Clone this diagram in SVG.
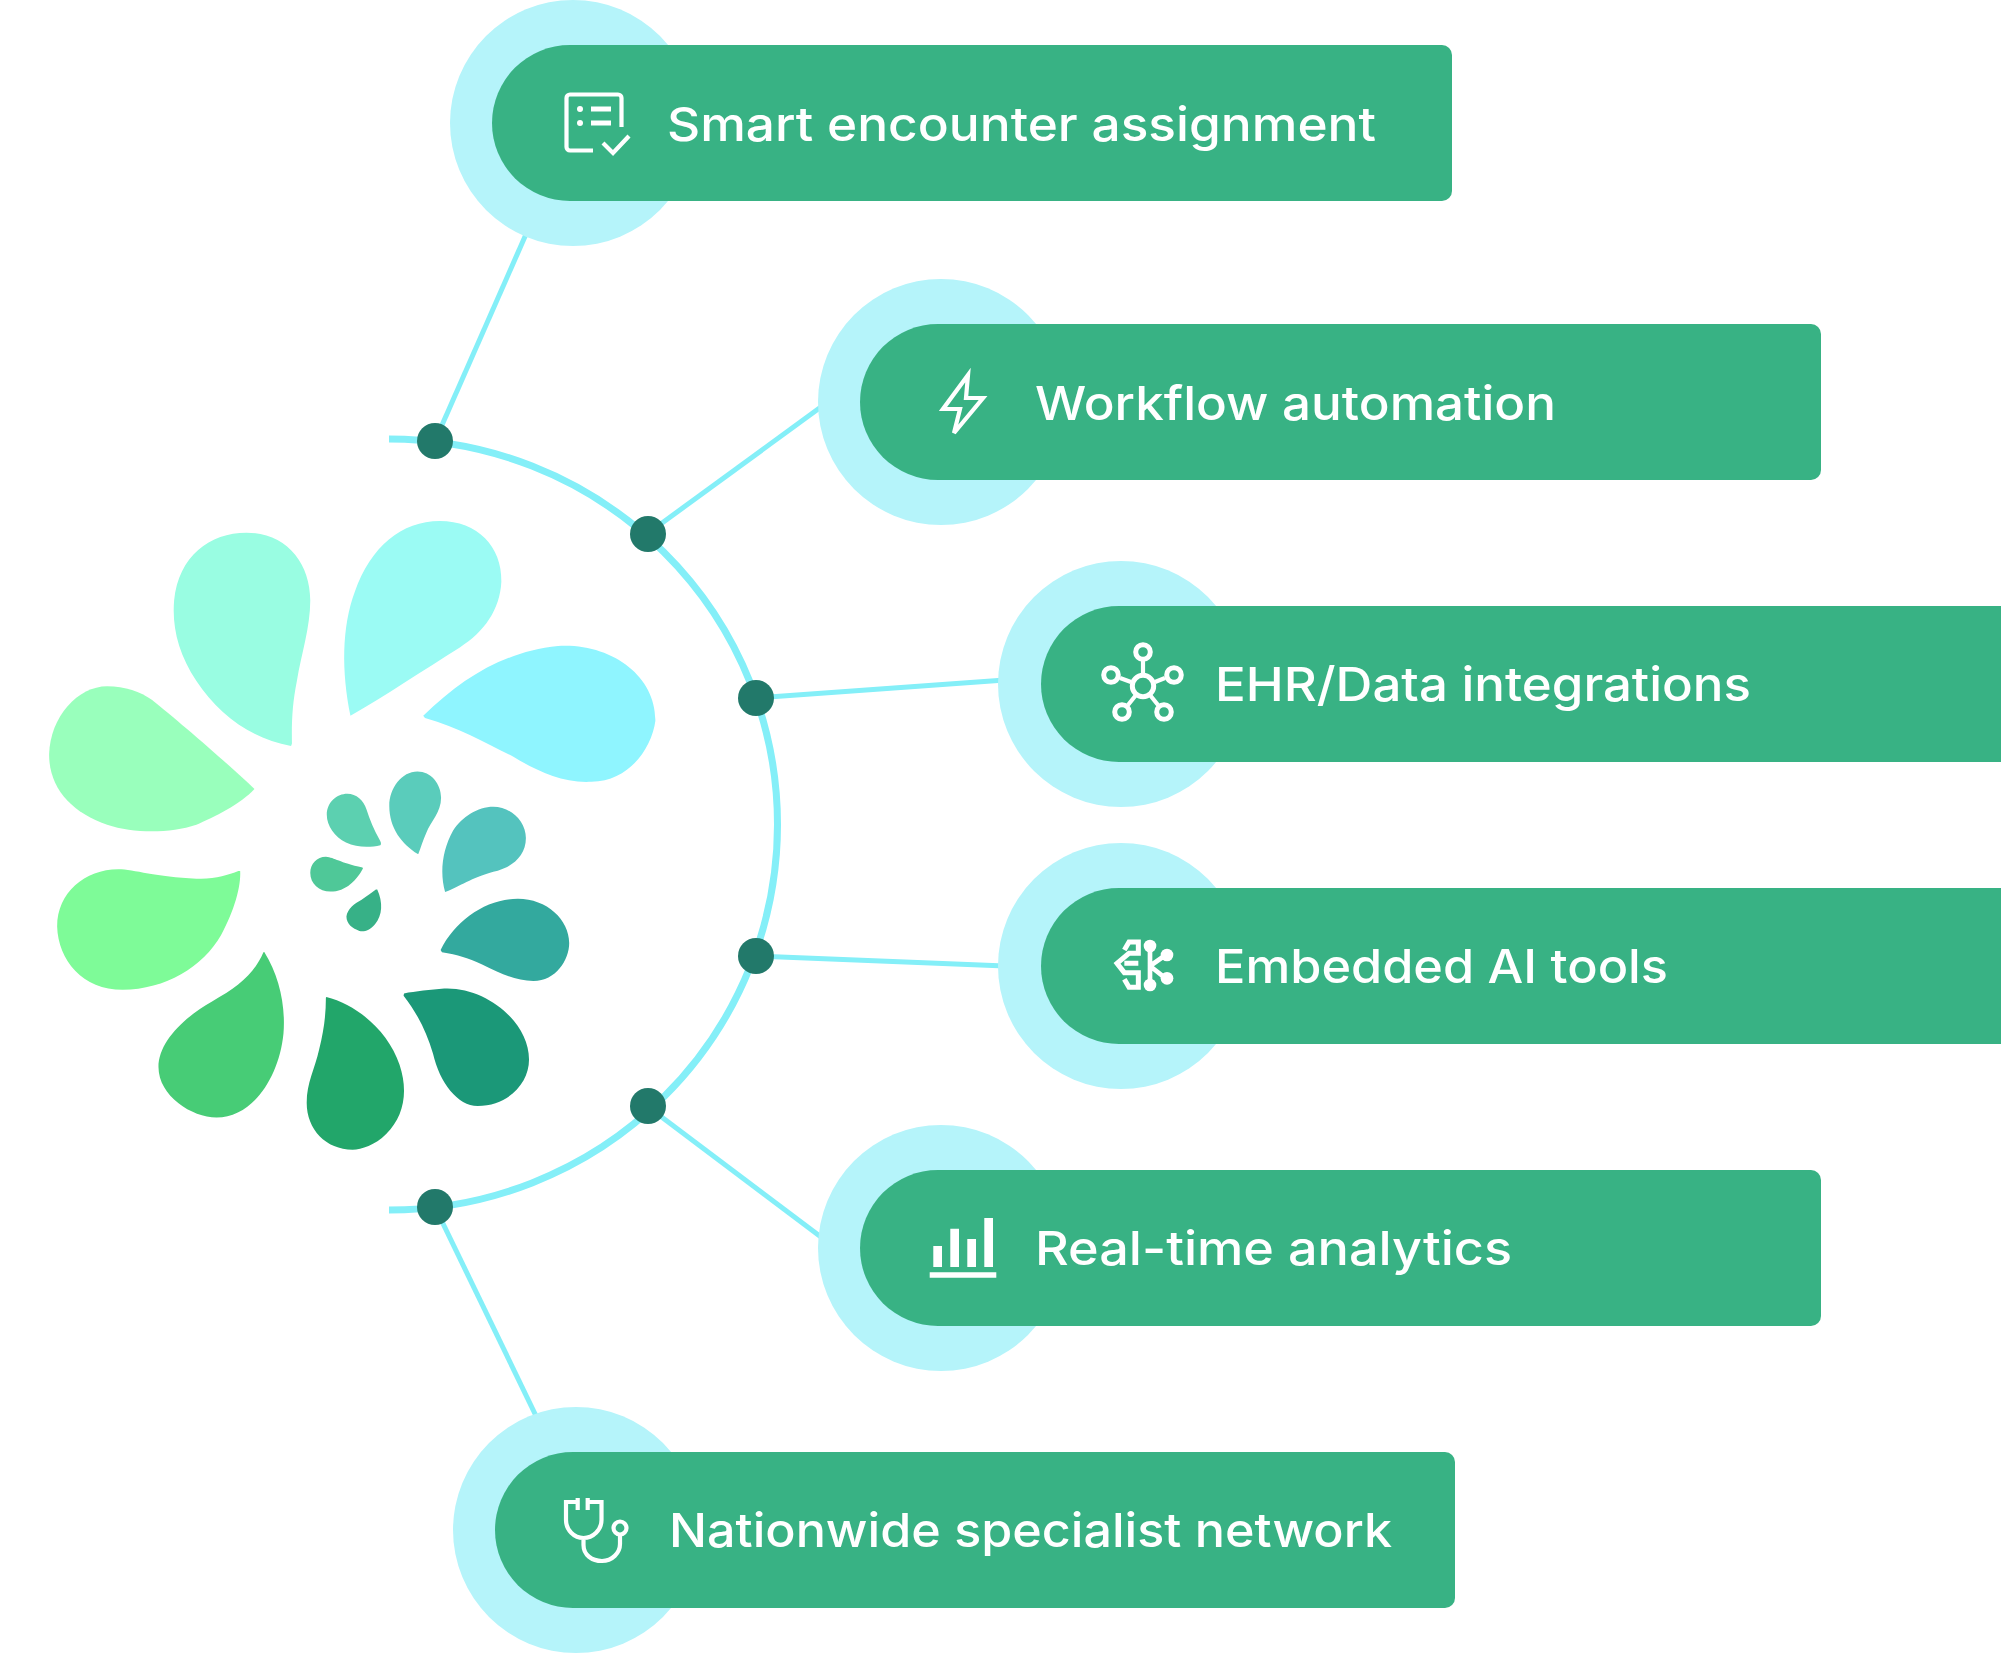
<svg xmlns="http://www.w3.org/2000/svg" width="2001" height="1653" viewBox="0 0 2001 1653">
<style>
.halo{fill:#b5f4fa}
.pill{fill:#38b284}
.conn{fill:none;stroke:#84eff8;stroke-width:5}
.arc{fill:none;stroke:#84eff8;stroke-width:7}
.dot{fill:#22796a}
.lbl{font-family:"Inter","Liberation Sans",sans-serif;font-size:47px;font-weight:500;fill:#fff}
.ico{fill:none;stroke:#fff;stroke-width:4.2}
.icf{fill:#fff}
</style>
<rect width="2001" height="1653" fill="#fff"/>
<g id="connectors">
<path class="arc" d="M389,439 A388,385 0 0 1 389,1210"/>
<path class="conn" d="M435,441 L527,232"/>
<path class="conn" d="M647,534 L825,404"/>
<path class="conn" d="M755,698 L1005,680"/>
<path class="conn" d="M755,956 L1005,966"/>
<path class="conn" d="M647,1106 L825,1240"/>
<path class="conn" d="M435,1207 L538,1420"/>
<circle class="dot" cx="435" cy="441" r="18"/>
<circle class="dot" cx="648" cy="534" r="18"/>
<circle class="dot" cx="756" cy="698" r="18"/>
<circle class="dot" cx="756" cy="956" r="18"/>
<circle class="dot" cx="648" cy="1106" r="18"/>
<circle class="dot" cx="435" cy="1207" r="18"/>
</g>
<g id="logo" transform="translate(0 480) scale(.44643)">
<path fill="#8ff5ff" d="M948,528 C1040,440 1130,385 1250,372 C1370,365 1470,440 1468,540 C1460,600 1410,675 1325,676 C1260,680 1200,650 1150,620 C1090,590 1030,555 952,533 Z"/>
<path fill="#9bfbf4" d="M785,528 C765,430 765,330 795,250 C830,150 900,92 985,92 C1070,92 1125,150 1123,228 C1120,290 1085,340 1030,375 C950,425 860,485 785,528 Z"/>
<path fill="#99fde2" d="M652,596 C560,578 490,525 440,450 C400,390 385,330 390,270 C400,170 470,118 552,118 C640,118 695,185 695,270 C695,330 675,390 665,450 C655,500 653,540 654,590 Z"/>
<path fill="#99ffbc" d="M570,692 C540,725 480,755 440,772 C380,792 300,792 240,772 C160,745 110,690 110,615 C112,530 175,462 240,462 C280,462 315,475 340,492 C400,540 510,635 570,692 Z"/>
<path fill="#7efb98" d="M538,876 C540,910 525,965 495,1020 C455,1090 370,1142 275,1142 C185,1142 130,1075 128,1000 C128,925 190,872 265,872 C300,872 350,890 440,893 C480,895 510,885 534,876 Z"/>
<path fill="#47cc76" d="M592,1057 C625,1110 640,1175 635,1240 C625,1340 565,1428 485,1428 C430,1428 355,1380 355,1315 C355,1260 410,1205 475,1168 C535,1135 570,1105 590,1058 Z"/>
<path fill="#22a66a" d="M731,1158 C800,1175 870,1235 895,1310 C915,1370 905,1425 865,1465 C840,1490 810,1500 790,1500 C730,1500 687,1455 687,1395 C687,1350 705,1320 715,1275 C725,1235 730,1200 730,1160 Z"/>
<path fill="#1b9878" d="M905,1150 C930,1145 965,1142 995,1139 C1090,1135 1185,1215 1185,1298 C1185,1350 1140,1402 1070,1402 C1025,1402 985,1350 970,1285 C955,1235 935,1195 904,1155 Z"/>
<path fill="#33a99e" d="M987,1053 C1020,985 1090,938 1160,938 C1225,938 1275,985 1275,1037 C1275,1075 1245,1122 1195,1122 C1155,1122 1120,1105 1080,1085 C1050,1072 1025,1063 990,1058 Z"/>
<path fill="#54c3be" d="M997,923 C985,880 990,830 1015,785 C1035,755 1070,732 1105,732 C1145,732 1178,765 1178,802 C1178,840 1150,865 1115,875 C1060,888 1040,905 997,923 Z"/>
<path fill="#5accbb" d="M936,838 C900,815 872,780 872,730 C872,690 900,653 935,653 C965,653 988,680 988,712 C988,745 965,765 955,790 C947,808 943,822 937,838 Z"/>
<path fill="#5cd0b0" d="M852,818 C830,823 800,824 775,812 C750,800 732,775 732,750 C732,722 755,703 778,703 C798,703 815,718 821,738 C828,760 838,785 850,805 C853,810 855,815 852,818 Z"/>
<path fill="#4fc898" d="M813,870 C800,895 775,922 740,922 C715,922 695,905 695,880 C695,860 710,844 730,844 C750,846 760,857 812,868 Z"/>
<path fill="#37b187" d="M845,917 C858,945 857,975 840,995 C828,1010 815,1012 805,1010 C790,1005 776,995 776,978 C778,960 795,948 810,940 C822,932 832,924 842,917 Z"/>
</g>
<g id="node-smart-encounter">
<circle class="halo" cx="573" cy="123" r="123"/>
<path class="pill" d="M570,45 H1442 a10,10 0 0 1 10,10 V191 a10,10 0 0 1 -10,10 H570 a78,78 0 0 1 0,-156 Z"/>
<path class="ico" d="M593,150.500 H570 a3.500,3.500 0 0 1 -3.500,-3.500 V98 a3.500,3.500 0 0 1 3.500,-3.500 H618 a3.500,3.500 0 0 1 3.500,3.500 V127"/>
<circle class="icf" cx="580" cy="109" r="3"/><circle class="icf" cx="580" cy="123" r="3"/>
<path class="icf" d="M591,106.500 h20 v5 h-20z M591,120.500 h20 v5 h-20z"/>
<path class="ico" stroke-width="4.500" d="M603,143 L613,153 L629,136"/>
<text class="lbl" x="667" y="141" textLength="709" lengthAdjust="spacingAndGlyphs">Smart encounter assignment</text>
</g>
<g id="node-workflow">
<circle class="halo" cx="941" cy="402" r="123"/>
<path class="pill" d="M938,324 H1811 a10,10 0 0 1 10,10 V470 a10,10 0 0 1 -10,10 H938 a78,78 0 0 1 0,-156 Z"/>
<path class="ico" d="M968,375 L943,409 H960 L954,433 L983,398 H966 Z"/>
<text class="lbl" x="1035" y="420" textLength="521" lengthAdjust="spacingAndGlyphs">Workflow automation</text>
</g>
<g id="node-ehr">
<circle class="halo" cx="1121" cy="684" r="123"/>
<path class="pill" d="M1119,606 H2001 V762 H1119 a78,78 0 0 1 0,-156 Z"/>
<g class="ico">
<circle cx="1143" cy="686" r="10.700" stroke-width="5"/>
<circle cx="1143" cy="652" r="7.300" stroke-width="5"/><circle cx="1111" cy="675" r="7.300" stroke-width="5"/><circle cx="1174" cy="675" r="7.300" stroke-width="5"/><circle cx="1122" cy="712" r="7.300" stroke-width="5"/><circle cx="1164" cy="712" r="7.300" stroke-width="5"/>
<path d="M1143,660 V673 M1120,678 L1131,682 M1165,678 L1155,682 M1128,705 L1136,695 M1158,705 L1150,695"/>
</g>
<text class="lbl" x="1215" y="701" textLength="536" lengthAdjust="spacingAndGlyphs">EHR/Data integrations</text>
</g>
<g id="node-ai">
<circle class="halo" cx="1121" cy="966" r="123"/>
<path class="pill" d="M1119,888 H2001 V1044 H1119 a78,78 0 0 1 0,-156 Z"/>
<g transform="translate(1105 930) scale(.33333)">
<path fill="none" stroke="#fff" stroke-width="15" d="M58,60 L72,36 H100 V70 H72 L36,100 L58,128 H100 V172 H72 L58,148 M58,100 H100"/>
<path fill="none" stroke="#fff" stroke-width="14" d="M135,45 V165 M135,108 L182,75 M135,108 L182,145"/>
<circle class="icf" cx="135" cy="48" r="19"/><circle class="icf" cx="135" cy="165" r="19"/><circle class="icf" cx="186" cy="75" r="19"/><circle class="icf" cx="186" cy="145" r="19"/>
</g>
<text class="lbl" x="1215" y="983" textLength="453" lengthAdjust="spacingAndGlyphs">Embedded AI tools</text>
</g>
<g id="node-analytics">
<circle class="halo" cx="941" cy="1248" r="123"/>
<path class="pill" d="M938,1170 H1811 a10,10 0 0 1 10,10 V1316 a10,10 0 0 1 -10,10 H938 a78,78 0 0 1 0,-156 Z"/>
<path class="icf" d="M933.300,1246 h8.700 v21 h-8.700z M950.300,1228.700 h8.700 v38.300 h-8.700z M967.300,1239 h8.700 v28 h-8.700z M984.300,1218 h8.700 v49 h-8.700z M929.700,1272.300 h66.600 v5.400 h-66.600z"/>
<text class="lbl" x="1035" y="1265" textLength="477" lengthAdjust="spacingAndGlyphs">Real-time analytics</text>
</g>
<g id="node-specialist">
<circle class="halo" cx="576" cy="1530" r="123"/>
<path class="pill" d="M573,1452 H1445 a10,10 0 0 1 10,10 V1598 a10,10 0 0 1 -10,10 H573 a78,78 0 0 1 0,-156 Z"/>
<path class="ico" d="M577.700,1498 V1510 M587.700,1498 V1510 M577,1502 H566 V1520 C566,1530 574,1538 583.500,1538 C593,1538 601.500,1530 601.500,1520 V1502 H588 M583.500,1538 V1545 C583.500,1555 592,1561 602,1561 C612,1561 620,1553 620,1544 V1534"/>
<circle class="ico" cx="620" cy="1528" r="6.500"/>
<text class="lbl" x="669" y="1547" textLength="723" lengthAdjust="spacingAndGlyphs">Nationwide specialist network</text>
</g>
</svg>
